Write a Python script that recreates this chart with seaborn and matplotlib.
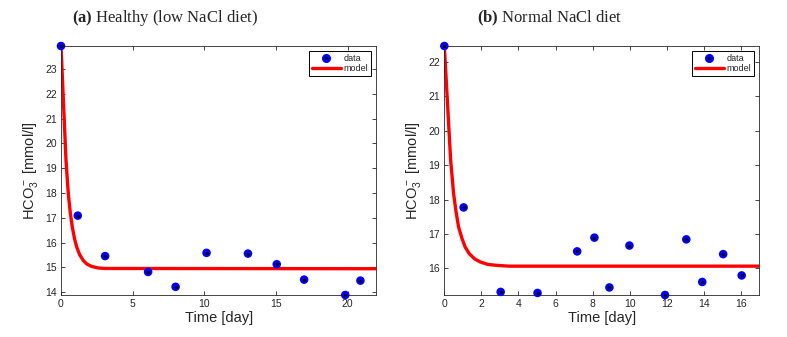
import matplotlib
matplotlib.use("Agg")
import matplotlib.pyplot as plt
import seaborn as sns
import pandas as pd
from matplotlib.lines import Line2D

# ---- data ----
a_t = [0.0, 1.17, 3.08, 6.08, 8.0, 10.16, 13.05, 15.06, 16.97, 19.84, 20.9]
a_v = [23.93, 17.09, 15.46, 14.82, 14.22, 15.59, 15.56, 15.13, 14.51, 13.89, 14.47]
a_model_t = [0.0, 0.35, 0.51, 0.65, 0.79, 0.95, 1.1, 1.3, 1.56, 1.8, 2.15, 2.6, 3.08, 22.0]
a_model_v = [23.93, 19.32, 17.98, 17.2, 16.63, 16.15, 15.82, 15.52, 15.28, 15.14, 15.04, 14.98, 14.96, 14.95]

b_t = [0.0, 1.04, 3.04, 5.03, 7.17, 8.1, 8.91, 9.99, 11.91, 13.06, 13.92, 15.05, 16.05]
b_v = [22.47, 17.77, 15.31, 15.28, 16.49, 16.89, 15.44, 16.66, 15.22, 16.84, 15.6, 16.41, 15.79]
b_model_t = [0.0, 0.34, 0.5, 0.63, 0.77, 0.95, 1.13, 1.35, 1.64, 1.95, 2.35, 2.9, 3.5, 17.0]
b_model_v = [22.47, 19.15, 18.17, 17.65, 17.2, 16.87, 16.61, 16.42, 16.27, 16.18, 16.11, 16.08, 16.06, 16.06]

titles = [("(a)", "Healthy (low NaCl diet)"), ("(b)", "Normal NaCl diet")]
xlims = [(0, 22), (0, 17)]
ylims = [(13.89, 23.93), (15.22, 22.47)]
xticks = [[0, 5, 10, 15, 20], [0, 2, 4, 6, 8, 10, 12, 14, 16]]
yticks = [list(range(14, 24)), list(range(16, 23))]

sns.set_theme(style="ticks")
plt.rcParams["font.family"] = ["Liberation Sans", "DejaVu Sans"]
plt.rcParams["mathtext.fontset"] = "custom"
plt.rcParams["mathtext.rm"] = "Liberation Sans"
plt.rcParams["mathtext.it"] = "Liberation Sans"
plt.rcParams["mathtext.bf"] = "Liberation Serif:bold"

fig = plt.figure(figsize=(7.87, 3.37), dpi=100)
axes = [fig.add_axes([0.0775, 0.1246, 0.4005, 0.7389]),
        fig.add_axes([0.5646, 0.1246, 0.4002, 0.7389])]

panels = [(a_t, a_v, a_model_t, a_model_v), (b_t, b_v, b_model_t, b_model_v)]
title_x = [165.5 / 787, 549.5 / 787]

for i, (ax, (t, v, mt, mv)) in enumerate(zip(axes, panels)):
    dfm = pd.DataFrame({"t": mt, "v": mv})
    dfd = pd.DataFrame({"t": t, "v": v})
    sns.lineplot(data=dfm, x="t", y="v", ax=ax, color="#ff0000", lw=2.4,
                 estimator=None, sort=True, zorder=2)
    sns.scatterplot(data=dfd, x="t", y="v", ax=ax, color="#0000ff", s=38,
                    edgecolor="none", zorder=3, clip_on=False)
    ax.plot(t, v, ls="none", marker="o", ms=1.4, color="black", zorder=4, clip_on=False)

    ax.set_xlim(*xlims[i])
    ax.set_ylim(*ylims[i])
    ax.set_xticks(xticks[i])
    ax.set_yticks(yticks[i])
    ax.tick_params(direction="in", top=True, right=True, labelsize=7.5,
                   length=3, width=0.6, colors="#262626", pad=3)
    for s in ax.spines.values():
        s.set_visible(True)
        s.set_linewidth(0.6)
        s.set_color("#262626")
    ax.set_xlabel("Time [day]", fontsize=10.5, labelpad=1)
    ax.set_ylabel("HCO$_3^-$ [mmol/l]", fontsize=10.5, labelpad=4)

    h_blue = Line2D([], [], ls="none", marker="o", ms=5.5, color="#0000ff")
    h_dot = Line2D([], [], ls="none", marker="o", ms=1.3, color="black")
    h_red = Line2D([], [], color="#ff0000", lw=2.4)
    leg = ax.legend([(h_blue, h_dot), h_red], ["data", "model"], loc="upper right",
                    fontsize=6.5, frameon=True, fancybox=False, framealpha=1,
                    edgecolor="black", handlelength=3.2, borderpad=0.3,
                    labelspacing=0.15, handletextpad=0.3, borderaxespad=0.6)
    leg.get_frame().set_linewidth(0.7)

    fig.text(title_x[i], 1 - 18 / 337,
             r"$\mathbf{" + titles[i][0] + r"}$ " + titles[i][1],
             ha="center", va="center", fontsize=12, family="Liberation Serif")

fig.savefig("out.png", dpi=100)
